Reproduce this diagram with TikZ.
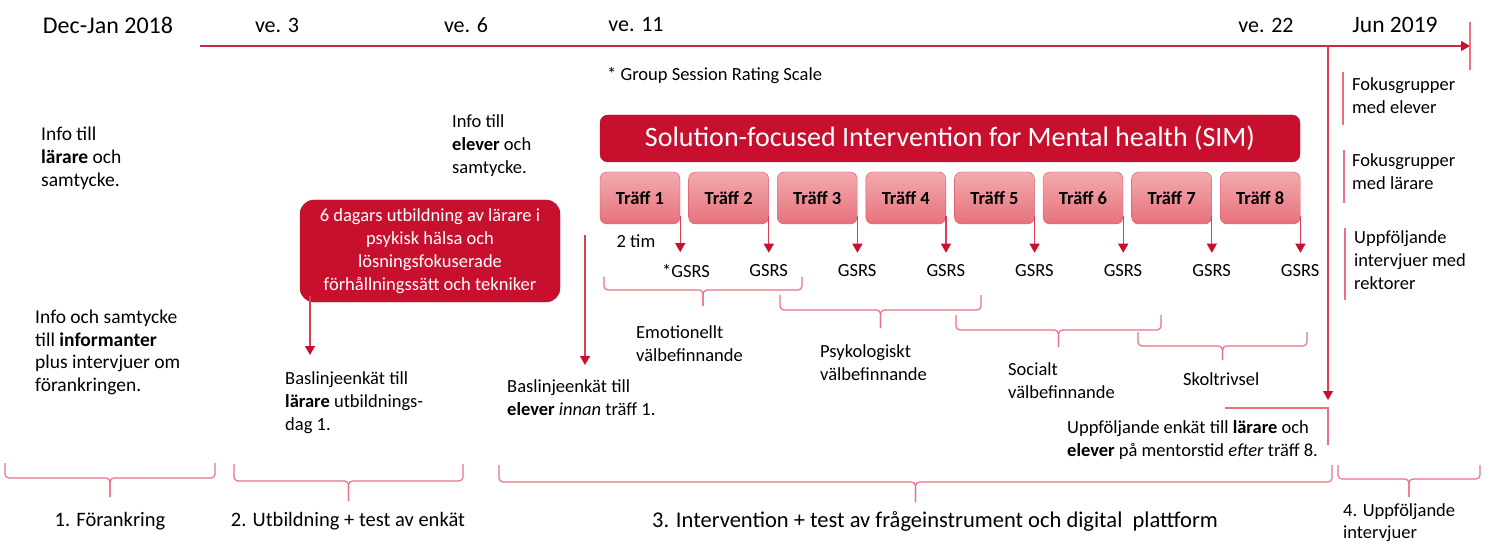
\documentclass[tikz,border=0pt]{standalone}
\usepackage{fontspec}
\setmainfont{Carlito}
\usetikzlibrary{arrows.meta}

\definecolor{simred}{RGB}{200,16,46}
\definecolor{arrowred}{RGB}{222,60,85}
\definecolor{linepink}{RGB}{234,112,132}
\definecolor{traffhi}{RGB}{243,170,174}
\definecolor{trafflo}{RGB}{230,114,124}
\definecolor{traffedge}{RGB}{222,82,98}

\newcommand{\bodyfont}{\fontsize{18.5}{23}\selectfont}
% curly bracket: x1, x2, top, middle, tip
\newcommand{\curly}[5]{%
  \draw[pinkline,rounded corners=4pt]
    (#1,#3) -- (#1,#4) -- ({(#1+#2)/2},#4) -- ({(#1+#2)/2},#5);
  \draw[pinkline,rounded corners=4pt]
    (#2,#3) -- (#2,#4) -- ({(#1+#2)/2},#4) -- ({(#1+#2)/2},#5);
}

\begin{document}
\begin{tikzpicture}[x=1pt,y=-1pt,
    txt/.style={anchor=north west,align=left,inner sep=0pt,font=\bodyfont},
    week/.style={inner sep=0pt,font=\fontsize{22}{26}\selectfont},
    phase/.style={inner sep=0pt,font=\fontsize{20.5}{24}\selectfont},
    redbox/.style={draw=simred!85!black,fill=simred,text=white,align=center,inner sep=0pt},
    traff/.style={draw=traffedge,top color=traffhi,bottom color=trafflo,rounded corners=7pt,
        minimum width=80pt,minimum height=52pt,inner sep=0pt,font=\bodyfont\bfseries},
    arr/.style={draw=arrowred,line width=1.1pt,-{Triangle[width=10pt,length=9pt,color=simred]}},
    pinkline/.style={draw=linepink,line width=1.2pt},
  ]
    \useasboundingbox (0,0) rectangle (1500,556);

    % time line
    \coordinate (tl0) at (200,46);
    \coordinate (tl1) at (1470,46);
    \coordinate (split) at (1328,46);
    \draw[arr,draw=simred!90] (tl0) -- (tl1);
    \draw[pinkline] ([yshift=24pt]tl1) -- ([yshift=-24pt]tl1);

    \node[week,font=\fontsize{24}{28}\selectfont] (w0) at (108,25) {Dec-Jan 2018};
    \node[week] (w3) at (277,25) {ve. 3};
    \node[week] (w6) at (466,25) {ve. 6};
    \node[week] (w11) at (636,25) {ve. 11};
    \node[week] (w22) at (1266,25) {ve. 22};
    \node[week,font=\fontsize{23.5}{28}\selectfont] (wjun) at (1395,25) {Jun 2019};

    \node[txt,font=\fontsize{18.5}{22}\selectfont] (gsrsnote) at (607,67) {* Group Session Rating Scale};

    % phase 1
    \node[txt,font=\fontsize{19.5}{23}\selectfont] (infolarare) at (41,127) {Info till\\\textbf{lärare} och\\samtycke.};
    \node[txt,font=\fontsize{19.5}{22.5}\selectfont] (infoinf) at (35,310) {Info och samtycke\\till \textbf{informanter}\\plus intervjuer om\\förankringen.};

    % phase 2
    \node[redbox,rounded corners=14pt,minimum width=260pt,minimum height=102pt,font=\bodyfont]
        (utbildning) at (430,251) {6 dagars utbildning av lärare i\\psykisk hälsa och\\lösningsfokuserade\\förhållningssätt och tekniker};
    \node[txt] (basllarare) at (285,371) {Baslinjeenkät till\\\textbf{lärare} utbildnings-\\dag 1.};
    \coordinate (basltip) at (310,355);
    \draw[arr] ([yshift=6pt]utbildning.south west -| basltip) -- (basltip);

    \node[txt] (infoelever) at (452,114) {Info till\\\textbf{elever} och\\samtycke.};
    \node[txt] (baslelever) at (507,379) {Baslinjeenkät till\\\textbf{elever} \emph{innan} träff 1.};
    \coordinate (elevtop) at (585,235);
    \coordinate (elevtip) at (585,365);
    \draw[arr] (elevtop) -- (elevtip);

    % phase 3
    \node[redbox,rounded corners=8pt,minimum width=700pt,minimum height=47pt,font=\fontsize{28}{32}\selectfont]
        (sim) at (950,138.5) {Solution-focused Intervention for Mental health (SIM)};

    \foreach \i in {1,...,8} {
        \pgfmathsetmacro{\x}{640+(\i-1)*88.6}
        \node[traff] (t\i) at (\x,198) {Träff \i};
        \ifnum\i=1
            \node[inner sep=4pt,font=\bodyfont] (g\i) at (\x+46,271) {*GSRS};
        \else
            \node[inner sep=4pt,font=\bodyfont] (g\i) at (\x+40,271) {GSRS};
        \fi
        \draw[arr] ([yshift=8pt]t\i.south east) -- ([yshift=8pt]t\i.south east |- g\i.north);
    }
    \node[inner sep=0pt,font=\bodyfont] (tim) at (636,241) {2 tim};

    \curly{604}{802}{277}{290}{306}
    \curly{780}{981}{295}{310}{328}
    \curly{956}{1161}{315}{330}{347}
    \curly{1138}{1307}{332}{346}{360}

    \node[txt] (emo) at (636,325) {Emotionellt\\välbefinnande};
    \node[txt] (psy) at (820,344) {Psykologiskt\\välbefinnande};
    \node[txt] (soc) at (1008,362) {Socialt\\välbefinnande};
    \node[txt] (skol) at (1183,372) {Skoltrivsel};

    \coordinate (splittip) at (1328,400);
    \draw[arr] (split) -- (splittip);
    \node[txt] (uppfenkat) at (1067,420) {Uppföljande enkät till \textbf{lärare} och\\\textbf{elever} på mentorstid \emph{efter} träff 8.};
    \draw[pinkline] (1225,408) -- (1328,408) -- (1328,445);

    % phase 4
    \node[txt] (fokelev) at (1352,77) {Fokusgrupper\\med elever};
    \node[txt] (foklar) at (1352,153) {Fokusgrupper\\med lärare};
    \node[txt] (uppfrekt) at (1354,230) {Uppföljande\\intervjuer med\\rektorer};
    \draw[pinkline] (1343,72) -- (1343,125);
    \draw[pinkline] (1344,150) -- (1344,203);
    \draw[pinkline] (1345,228) -- (1345,300);

    % phases
    \curly{5}{215}{463}{478}{497}
    \curly{234}{463}{464}{481}{501}
    \curly{499}{1332}{465}{482}{502}
    \curly{1338}{1480}{465}{479}{497}

    \node[phase] (fas1) at (110,521) {1. Förankring};
    \node[phase] (fas2) at (348,521) {2. Utbildning + test av enkät};
    \node[phase,font=\fontsize{22.5}{26}\selectfont] (fas3) at (935,521) {3. Intervention + test av frågeinstrument och digital\ \ plattform};
    \node[txt,font=\fontsize{18.5}{22}\selectfont] (fas4) at (1343,503) {4. Uppföljande\\intervjuer};

\end{tikzpicture}
\end{document}
